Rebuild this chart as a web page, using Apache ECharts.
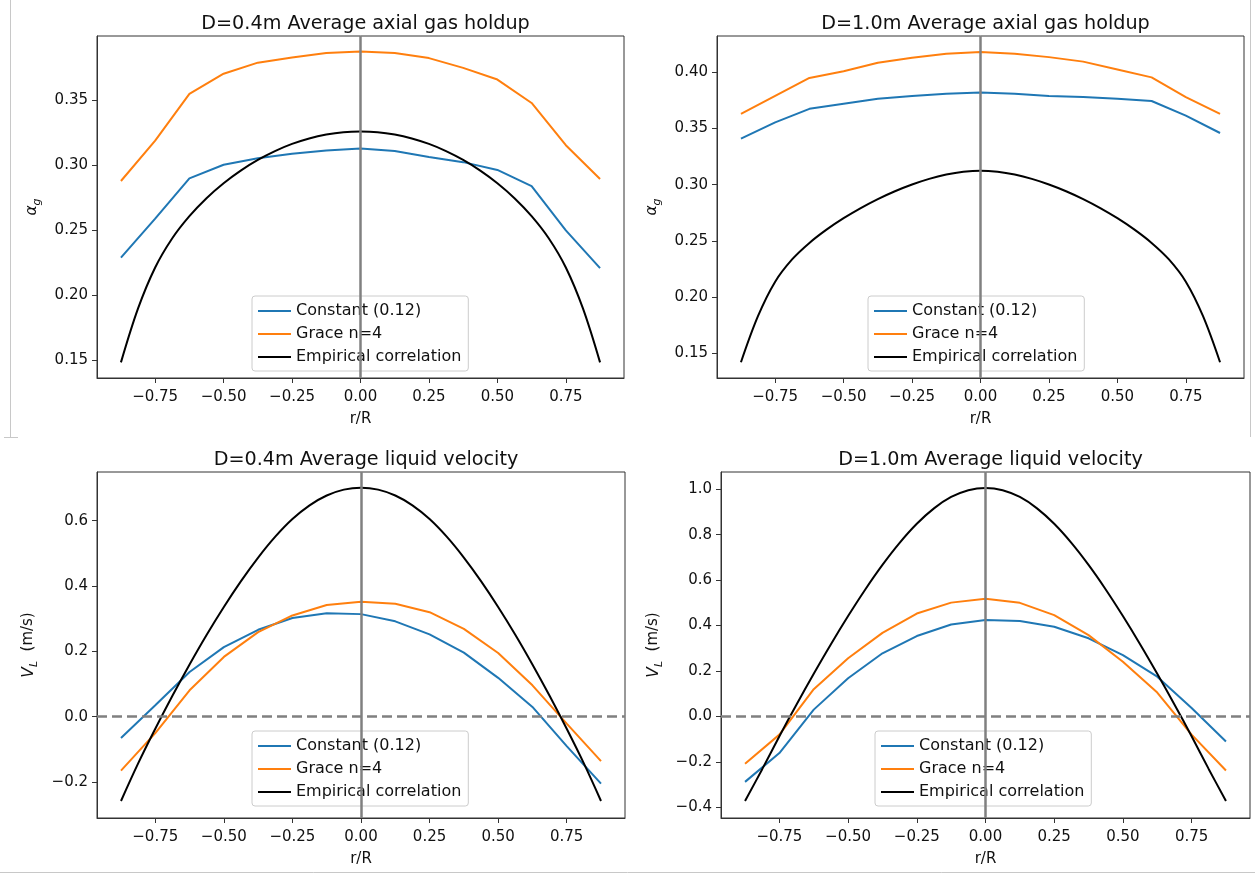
<!DOCTYPE html>
<html>
<head>
<meta charset="utf-8">
<script src="https://cdn.jsdelivr.net/npm/echarts@6/dist/echarts.min.js"></script>
<style>
html,body{margin:0;padding:0;background:#fff;}
#chart{width:1255px;height:875px;}
</style>
</head>
<body>
<div id="chart"></div>
<script>
// ---------- data ----------
const xCoarse = [-0.875, -0.75, -0.625, -0.5, -0.375, -0.25, -0.125, 0, 0.125, 0.25, 0.375, 0.5, 0.625, 0.75, 0.875];
const xFine = [-0.875, -0.8125, -0.75, -0.6875, -0.625, -0.5625, -0.5, -0.4375, -0.375, -0.3125, -0.25, -0.1875, -0.125, -0.0625, 0,
               0.0625, 0.125, 0.1875, 0.25, 0.3125, 0.375, 0.4375, 0.5, 0.5625, 0.625, 0.6875, 0.75, 0.8125, 0.875];

const seriesNames = ['Constant (0.12)', 'Grace n=4', 'Empirical correlation'];

// D=0.4m gas holdup
const gas04Constant = [0.229, 0.259, 0.290, 0.3005, 0.3055, 0.309, 0.3115, 0.313, 0.311, 0.3065, 0.3025, 0.2965, 0.284, 0.250, 0.221];
const gas04Grace    = [0.288, 0.319, 0.355, 0.3705, 0.379, 0.383, 0.3865, 0.3875, 0.3865, 0.3825, 0.375, 0.366, 0.348, 0.3155, 0.2895];
const gas04Emp      = [0.1485, 0.190, 0.2215, 0.244, 0.261, 0.2748, 0.2863, 0.296, 0.3042, 0.311, 0.3165, 0.3207, 0.3237, 0.3255, 0.326,
                       0.3255, 0.3237, 0.3207, 0.3165, 0.311, 0.3042, 0.296, 0.2863, 0.2748, 0.261, 0.244, 0.2215, 0.190, 0.1485];

// D=1.0m gas holdup
const gas10Constant = [0.341, 0.3555, 0.3675, 0.372, 0.3765, 0.379, 0.381, 0.382, 0.381, 0.379, 0.378, 0.3765, 0.3745, 0.3615, 0.346];
const gas10Grace    = [0.363, 0.379, 0.395, 0.401, 0.4085, 0.413, 0.4165, 0.418, 0.4165, 0.4135, 0.4095, 0.4025, 0.3955, 0.378, 0.363];
const gas10Emp      = [0.142, 0.1832, 0.2137, 0.2337, 0.2482, 0.260, 0.2702, 0.2792, 0.2872, 0.2942, 0.3002, 0.3052, 0.309, 0.3115, 0.3125,
                       0.3115, 0.309, 0.3052, 0.3002, 0.2942, 0.2872, 0.2792, 0.2702, 0.260, 0.2482, 0.2337, 0.2137, 0.1832, 0.142];

// D=0.4m liquid velocity
const vel04Constant = [-0.065, 0.035, 0.137, 0.213, 0.266, 0.302, 0.317, 0.314, 0.292, 0.252, 0.196, 0.119, 0.030, -0.090, -0.205];
const vel04Grace    = [-0.165, -0.050, 0.081, 0.183, 0.259, 0.310, 0.342, 0.352, 0.346, 0.320, 0.269, 0.195, 0.096, -0.021, -0.136];
const vel04Emp      = [-0.258, -0.143, -0.037, 0.064, 0.160, 0.251, 0.336, 0.415, 0.487, 0.551, 0.605, 0.647, 0.677, 0.695, 0.701,
                       0.695, 0.677, 0.647, 0.605, 0.551, 0.487, 0.415, 0.336, 0.251, 0.160, 0.064, -0.037, -0.143, -0.258];

// D=1.0m liquid velocity
const vel10Constant = [-0.288, -0.161, 0.030, 0.168, 0.278, 0.354, 0.405, 0.425, 0.420, 0.395, 0.344, 0.270, 0.175, 0.037, -0.110];
const vel10Grace    = [-0.208, -0.080, 0.120, 0.256, 0.368, 0.453, 0.501, 0.518, 0.500, 0.446, 0.358, 0.241, 0.105, -0.080, -0.238];
const vel10Emp      = [-0.372, -0.232, -0.087, 0.053, 0.188, 0.318, 0.442, 0.559, 0.667, 0.764, 0.848, 0.916, 0.966, 0.996, 1.006,
                       0.996, 0.966, 0.916, 0.848, 0.764, 0.667, 0.559, 0.442, 0.318, 0.188, 0.053, -0.087, -0.232, -0.372];

// tick labels
const xTicks = [-0.75, -0.5, -0.25, 0, 0.25, 0.5, 0.75];
const yTicksGas04 = [0.15, 0.20, 0.25, 0.30, 0.35];
const yTicksGas10 = [0.15, 0.20, 0.25, 0.30, 0.35, 0.40];
const yTicksVel04 = [-0.2, 0.0, 0.2, 0.4, 0.6];
const yTicksVel10 = [-0.4, -0.2, 0.0, 0.2, 0.4, 0.6, 0.8, 1.0];

const titles = ['D=0.4m Average axial gas holdup', 'D=1.0m Average axial gas holdup',
                'D=0.4m Average liquid velocity', 'D=1.0m Average liquid velocity'];

// ---------- layout / style ----------
const FONT = 'DejaVu Sans';
const colors = ['#1f77b4', '#ff7f0e', '#000000'];
const panels = [
  {grid:{left:97, top:36, width:527, height:342}, ymin:0.1365, ymax:0.3995, yTicks:yTicksGas04, dec:2,
   c:gas04Constant, g:gas04Grace, e:gas04Emp, yname:'gas', nameGap:57, legend:{left:252, top:296}, hline:false},
  {grid:{left:717, top:36, width:527, height:342}, ymin:0.128, ymax:0.4323, yTicks:yTicksGas10, dec:2,
   c:gas10Constant, g:gas10Grace, e:gas10Emp, yname:'gas', nameGap:57, legend:{left:868, top:296}, hline:false},
  {grid:{left:97, top:472, width:528, height:346}, ymin:-0.31, ymax:0.749, yTicks:yTicksVel04, dec:1,
   c:vel04Constant, g:vel04Grace, e:vel04Emp, yname:'vel', nameGap:60, legend:{left:252, top:731}, hline:true},
  {grid:{left:721, top:472, width:529, height:346}, ymin:-0.447, ymax:1.076, yTicks:yTicksVel10, dec:1,
   c:vel10Constant, g:vel10Grace, e:vel10Emp, yname:'vel', nameGap:59, legend:{left:875, top:731}, hline:true}
];

function fmt(v, d){ const s = Math.abs(v).toFixed(d); return (v < -1e-9 ? '\u2212' : '') + s; }
function pairs(xs, ys){ return xs.map((x,i)=>[x, ys[i]]); }

const textColor = '#111';
const axisColor = '#333';

const option = {
  animation: false,
  backgroundColor: '#fff',
  textStyle: {fontFamily: FONT},
  title: [], grid: [], xAxis: [], yAxis: [], legend: [], series: [],
  graphic: [
    {type:'line', shape:{x1:10.5,y1:0,x2:10.5,y2:437}, style:{stroke:'#c8c8c8', lineWidth:1}, silent:true},
    {type:'line', shape:{x1:4,y1:437.5,x2:18,y2:437.5}, style:{stroke:'#c8c8c8', lineWidth:1}, silent:true},
    {type:'line', shape:{x1:1250.5,y1:0,x2:1250.5,y2:437}, style:{stroke:'#c8c8c8', lineWidth:1}, silent:true},
    {type:'line', shape:{x1:0,y1:872.5,x2:1255,y2:872.5}, style:{stroke:'#c8c8c8', lineWidth:1}, silent:true}
  ]
};

panels.forEach((p, i) => {
  const cx = p.grid.left + p.grid.width / 2;
  option.title.push({
    text: titles[i], left: cx, top: p.grid.top - 26, textAlign: 'center',
    textStyle: {fontFamily: FONT, fontSize: 19.2, fontWeight: 'normal', color: textColor}
  });
  option.grid.push(Object.assign({show: true, borderColor: axisColor, borderWidth: 1, backgroundColor: 'transparent', containLabel: false}, p.grid));
  option.xAxis.push({
    type: 'value', gridIndex: i, min: -0.9625, max: 0.9625,
    name: 'r/R', nameLocation: 'middle', nameGap: 34,
    nameTextStyle: {fontFamily: FONT, fontSize: 15, color: textColor},
    axisLine: {show: true, onZero: false, lineStyle: {color: axisColor, width: 1}},
    axisTick: {show: true, length: 5, lineStyle: {color: axisColor}, customValues: xTicks},
    axisLabel: {show: true, margin: 12, fontFamily: FONT, fontSize: 15, color: textColor,
                customValues: xTicks, formatter: v => fmt(v, 2)},
    splitLine: {show: false}
  });
  const yname = p.yname === 'gas' ? '{i|α}{s|g}' : '{i|V}{s|L}{n|  (m/s)}';
  option.yAxis.push({
    type: 'value', gridIndex: i, min: p.ymin, max: p.ymax,
    name: yname, nameLocation: 'middle', nameRotate: 90, nameGap: p.nameGap,
    nameTextStyle: {fontFamily: FONT, fontSize: 15, color: textColor,
      rich: {
        i: {fontFamily: FONT, fontSize: 15.5, fontStyle: 'italic', color: textColor, lineHeight: 16, verticalAlign: 'top'},
        s: {fontFamily: FONT, fontSize: 11, fontStyle: 'italic', color: textColor, lineHeight: 10, padding: [8,0,0,0], verticalAlign: 'top'},
        n: {fontFamily: FONT, fontSize: 15, color: textColor, lineHeight: 16, verticalAlign: 'top'}
      }},
    axisLine: {show: true, onZero: false, lineStyle: {color: axisColor, width: 1}},
    axisTick: {show: true, length: 5, lineStyle: {color: axisColor}, customValues: p.yTicks},
    axisLabel: {show: true, margin: 9, fontFamily: FONT, fontSize: 15, color: textColor,
                customValues: p.yTicks, formatter: v => fmt(v, p.dec)},
    splitLine: {show: false}
  });
  option.legend.push({
    orient: 'vertical', left: p.legend.left, top: p.legend.top,
    data: seriesNames.slice(),
    icon: 'rect', itemWidth: 33, itemHeight: 2.2, itemGap: 7,
    padding: [7, 7, 6, 6],
    backgroundColor: 'rgba(255,255,255,0.8)', borderColor: '#cccccc', borderWidth: 1, borderRadius: 3,
    textStyle: {fontFamily: FONT, fontSize: 16, color: textColor, lineHeight: 16},
    selectedMode: false
  });
  const ys = [p.c, p.g, p.e];
  const xs = [xCoarse, xCoarse, xFine];
  for (let k = 0; k < 3; k++) {
    option.series.push({
      type: 'line', name: seriesNames[k], xAxisIndex: i, yAxisIndex: i,
      data: pairs(xs[k], ys[k]), showSymbol: false, symbol: 'none', smooth: k === 2 ? 0.35 : false,
      lineStyle: {color: colors[k], width: 2}, itemStyle: {color: colors[k]},
      emphasis: {disabled: true}, silent: true, z: 2 + k * 0.1
    });
  }
  option.series.push({
    type: 'line', name: 'vref' + i, xAxisIndex: i, yAxisIndex: i, data: [], silent: true, z: 3,
    markLine: {silent: true, symbol: ['none', 'none'], label: {show: false}, animation: false,
               lineStyle: {color: '#808080', width: 2.5, type: 'solid'},
               emphasis: {disabled: true}, data: [{xAxis: 0}]}
  });
  if (p.hline) {
    option.series.push({
      type: 'line', name: 'href' + i, xAxisIndex: i, yAxisIndex: i, data: [], silent: true, z: 3,
      markLine: {silent: true, symbol: ['none', 'none'], label: {show: false}, animation: false,
                 lineStyle: {color: '#808080', width: 2.5, type: [10, 5]},
                 emphasis: {disabled: true}, data: [{yAxis: 0}]}
    });
  }
});

const chart = echarts.init(document.getElementById('chart'), null, {renderer: 'canvas'});
chart.setOption(option);
</script>
</body>
</html>
